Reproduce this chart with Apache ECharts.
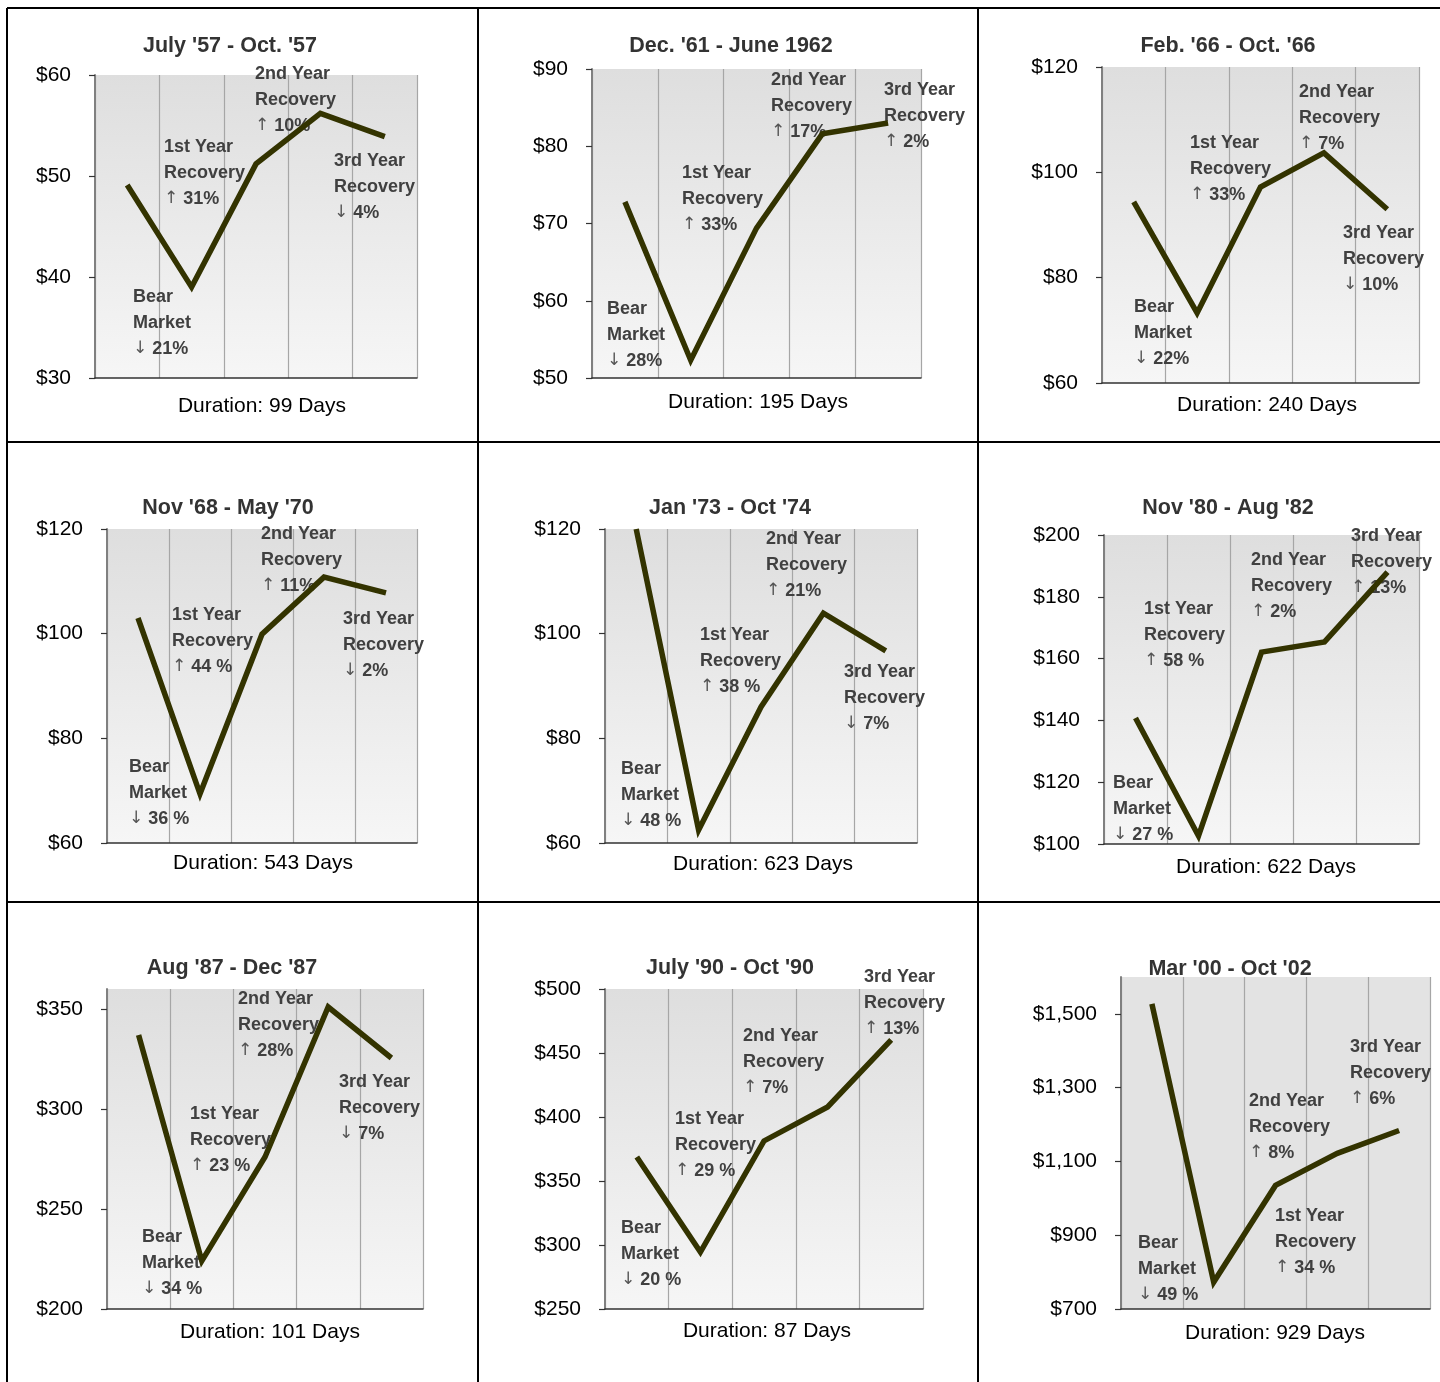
<!DOCTYPE html>
<html>
<head>
<meta charset="utf-8">
<script src="https://cdn.jsdelivr.net/npm/echarts@6/dist/echarts.min.js"></script>
<style>
  html, body { margin: 0; padding: 0; background: #fff; }
  #chart { width: 1440px; height: 1382px; }
</style>
</head>
<body>
<div id="chart"></div>
<script>
// ---- Data: S&P 500 bear markets and the three years of recovery that followed ----
const phases = ['Peak', 'Bear Market Low', '1st Year', '2nd Year', '3rd Year'];
const phaseNames = ['Bear\nMarket', '1st Year\nRecovery', '2nd Year\nRecovery', '3rd Year\nRecovery'];

const titles = [
  "July '57 - Oct. '57", "Dec. '61 - June 1962", "Feb. '66 - Oct. '66",
  "Nov '68 - May '70", "Jan '73 - Oct '74", "Nov '80 - Aug '82",
  "Aug '87 - Dec '87", "July '90 - Oct '90", "Mar '00 - Oct '02"
];
const durations = [
  'Duration: 99 Days', 'Duration: 195 Days', 'Duration: 240 Days',
  'Duration: 543 Days', 'Duration: 623 Days', 'Duration: 622 Days',
  'Duration: 101 Days', 'Duration: 87 Days', 'Duration: 929 Days'
];

// index level at peak, trough, and the end of each recovery year
const idx1957 = [49.1, 39.0, 51.2, 56.2, 53.9];
const idx1962 = [72.8, 52.3, 69.4, 81.6, 83.0];
const idx1966 = [94.4, 73.3, 97.2, 103.7, 93.0];
const idx1970 = [103.0, 69.4, 99.9, 110.8, 107.8];
const idx1974 = [120.0, 62.5, 86.0, 103.9, 96.7];
const idx1982 = [140.8, 102.6, 162.1, 165.4, 188.0];
const idx1987 = [337, 224, 276, 351, 325.5];
const idx1990 = [368.8, 294.5, 381.3, 407.8, 460.2];
const idx2002 = [1527, 773, 1035, 1122, 1184];

// percentage move of each phase
const chg1957 = ['↓ 21%', '↑ 31%', '↑ 10%', '↓ 4%'];
const chg1962 = ['↓ 28%', '↑ 33%', '↑ 17%', '↑ 2%'];
const chg1966 = ['↓ 22%', '↑ 33%', '↑ 7%', '↓ 10%'];
const chg1970 = ['↓ 36 %', '↑ 44 %', '↑ 11%', '↓ 2%'];
const chg1974 = ['↓ 48 %', '↑ 38 %', '↑ 21%', '↓ 7%'];
const chg1982 = ['↓ 27 %', '↑ 58 %', '↑ 2%', '↑ 13%'];
const chg1987 = ['↓ 34 %', '↑ 23 %', '↑ 28%', '↓ 7%'];
const chg1990 = ['↓ 20 %', '↑ 29 %', '↑ 7%', '↑ 13%'];
const chg2002 = ['↓ 49 %', '↑ 34 %', '↑ 8%', '↑ 6%'];

// value-axis scales: [min, max, step]
const yMin  = [30, 50, 60, 60, 60, 100, 200, 250, 700];
const yMax  = [60, 90, 120, 120, 120, 200, 360, 500, 1600];
const yStep = [10, 10, 20, 20, 20, 20, 50, 50, 200];

const seriesValues = [idx1957, idx1962, idx1966, idx1970, idx1974, idx1982, idx1987, idx1990, idx2002];
const seriesChanges = [chg1957, chg1962, chg1966, chg1970, chg1974, chg1982, chg1987, chg1990, chg2002];

// ---- Layout ----
// plot rectangles [left, top, width, height]
const plotRects = [
  [95, 75, 322, 303], [592, 69, 329, 309], [1102, 67, 317, 316],
  [107, 529, 310, 314], [605, 529, 312, 314], [1104, 535, 315, 309],
  [107, 989, 316, 320], [605, 989, 318, 320], [1121, 977, 309, 332]
];
const titlePos = [
  [230, 46], [731, 46], [1228, 46],
  [228, 508], [730, 508], [1228, 508],
  [232, 968], [730, 968], [1230, 969]
];
const durationPos = [
  [262, 406], [758, 402], [1267, 405],
  [263, 863], [763, 864], [1266, 867],
  [270, 1332], [767, 1331], [1275, 1333]
];
// annotation anchors: left edge and centre of first line, order: bear, 1st, 2nd, 3rd
const notePos = [
  [[133, 297], [164, 147], [255, 74], [334, 161]],
  [[607, 309], [682, 173], [771, 80], [884, 90]],
  [[1134, 307], [1190, 143], [1299, 92], [1343, 233]],
  [[129, 767], [172, 615], [261, 534], [343, 619]],
  [[621, 769], [700, 635], [766, 539], [844, 672]],
  [[1113, 783], [1144, 609], [1251, 560], [1351, 536]],
  [[142, 1237], [190, 1114], [238, 999], [339, 1082]],
  [[621, 1228], [675, 1119], [743, 1036], [864, 977]],
  [[1138, 1243], [1275, 1216], [1249, 1101], [1350, 1047]]
];

const FONT = '"Liberation Sans", Arial, Helvetica, sans-serif';
const LINE_COLOR = '#333300';
const NOTE_COLOR = '#404040';

function tickList(i) {
  const out = [];
  for (let v = yMin[i]; v <= yMax[i] + 1e-9; v += yStep[i]) out.push(v);
  return out;
}

// the arrow is set in a lighter face than the bold note text
function noteText(name, change) {
  return name + '\n' + change.replace(/^([↑↓])/, '{arr|$1}');
}

const grids = [], xAxes = [], yAxes = [], series = [], graphics = [];

for (let i = 0; i < 9; i++) {
  const [l, t, w, h] = plotRects[i];
  const plain = i === 8;
  grids.push({
    left: l, top: t, width: w, height: h,
    show: true, borderWidth: 0,
    backgroundColor: plain ? '#e3e3e3' : {
      type: 'linear', x: 0, y: 0, x2: 0, y2: 1,
      colorStops: [{ offset: 0, color: '#dedede' }, { offset: 1, color: '#f6f6f6' }]
    }
  });
  xAxes.push({
    type: 'category', gridIndex: i, data: phases, boundaryGap: true,
    axisLine: { show: true, onZero: false, lineStyle: { color: '#333', width: 1.5 } },
    axisTick: { show: false, interval: 0 },
    axisLabel: { show: false, interval: 0 },
    splitLine: { show: true, interval: 0, lineStyle: { color: '#a6a6a6', width: 1.2 } }
  });
  const ticks = tickList(i);
  yAxes.push({
    type: 'value', gridIndex: i, min: yMin[i], max: yMax[i], interval: yStep[i],
    axisLine: { show: true, lineStyle: { color: '#808080', width: 2 } },
    axisTick: { show: true, length: 6, customValues: ticks, lineStyle: { color: '#333', width: 1.2 } },
    axisLabel: {
      customValues: ticks, margin: 24,
      fontFamily: FONT, fontSize: 21, color: '#000',
      formatter: v => '$' + Number(v).toLocaleString('en-US')
    },
    splitLine: { show: false }
  });
  series.push({
    type: 'line', xAxisIndex: i, yAxisIndex: i, data: seriesValues[i],
    symbol: 'none', z: 5, clip: false,
    lineStyle: { color: LINE_COLOR, width: 5.5, join: 'miter' }
  });

  graphics.push({
    type: 'text', x: titlePos[i][0], y: titlePos[i][1], z: 10,
    style: { text: titles[i], fill: '#333', font: 'bold 21.5px ' + FONT, align: 'center', verticalAlign: 'middle' }
  });
  graphics.push({
    type: 'text', x: durationPos[i][0], y: durationPos[i][1], z: 10,
    style: { text: durations[i], fill: '#000', font: '21px ' + FONT, align: 'center', verticalAlign: 'middle' }
  });
  for (let k = 0; k < 4; k++) {
    graphics.push({
      type: 'text', x: notePos[i][k][0], y: notePos[i][k][1] - 13, z: 1,
      style: {
        text: noteText(phaseNames[k], seriesChanges[i][k]),
        fill: NOTE_COLOR, font: 'bold 18px ' + FONT, lineHeight: 26,
        align: 'left', verticalAlign: 'top',
        rich: {
          arr: {
            fontFamily: '"DejaVu Sans", sans-serif', fontSize: 17, fontWeight: 'normal',
            fill: '#555', lineHeight: 26
          }
        }
      }
    });
  }
}

// panel frame lines
const frame = [
  [7, 8, 1440, 8], [7, 442, 1440, 442], [7, 902, 1440, 902],
  [7, 8, 7, 1382], [478, 8, 478, 1382], [978, 8, 978, 1382]
];
frame.forEach(([x1, y1, x2, y2]) => graphics.push({
  type: 'line', z: 20, shape: { x1, y1, x2, y2 },
  style: { stroke: '#000', lineWidth: 2 }
}));

const chart = echarts.init(document.getElementById('chart'), null, { renderer: 'canvas' });
chart.setOption({
  animation: false,
  backgroundColor: '#ffffff',
  grid: grids,
  xAxis: xAxes,
  yAxis: yAxes,
  series: series,
  graphic: { elements: graphics }
});
</script>
</body>
</html>
